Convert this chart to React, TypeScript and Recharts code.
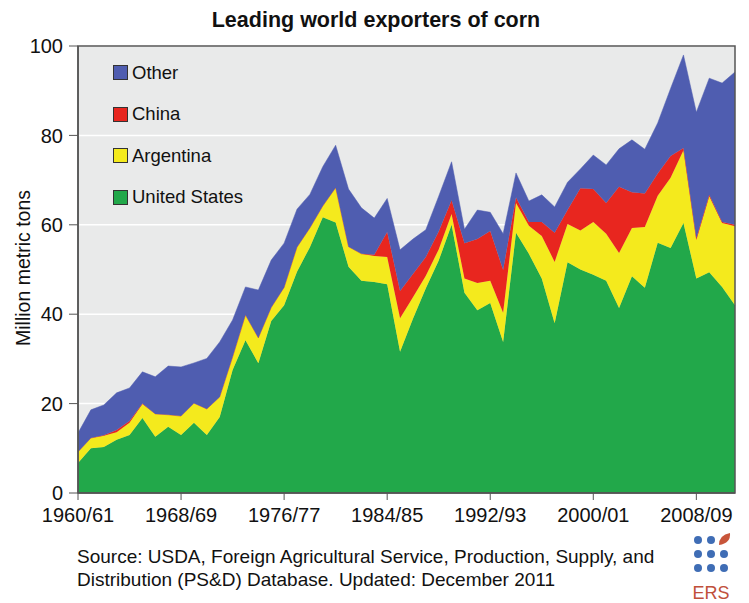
import React from 'react';
import {
  Area,
  AreaChart,
  CartesianGrid,
  Legend,
  ReferenceArea,
  XAxis,
  YAxis,
} from 'recharts';

// Marketing years shown on the x axis (one point per year)
const YEARS = [
  '1960/61', '1961/62', '1962/63', '1963/64', '1964/65', '1965/66', '1966/67', '1967/68', '1968/69', '1969/70',
  '1970/71', '1971/72', '1972/73', '1973/74', '1974/75', '1975/76', '1976/77', '1977/78', '1978/79', '1979/80',
  '1980/81', '1981/82', '1982/83', '1983/84', '1984/85', '1985/86', '1986/87', '1987/88', '1988/89', '1989/90',
  '1990/91', '1991/92', '1992/93', '1993/94', '1994/95', '1995/96', '1996/97', '1997/98', '1998/99', '1999/00',
  '2000/01', '2001/02', '2002/03', '2003/04', '2004/05', '2005/06', '2006/07', '2007/08', '2008/09', '2009/10',
  '2010/11', '2011/12',
];

const X_TICKS = ['1960/61', '1968/69', '1976/77', '1984/85', '1992/93', '2000/01', '2008/09'];
const Y_TICKS = [0, 20, 40, 60, 80, 100];

// Million metric tons
const US = [
  6.7, 10, 10.3, 11.9, 13, 16.8, 12.6, 14.8, 13, 15.7,
  13, 17, 27.5, 34.2, 29, 38.5, 42, 49.5, 55, 61.7,
  60.5, 50.6, 47.5, 47.2, 46.7, 31.6, 39, 45.8, 52, 60,
  44.8, 40.9, 42.5, 33.8, 58.2, 53.5, 48, 38, 51.6, 50,
  48.8, 47.5, 41.4, 48.5, 45.9, 56, 54.8, 60.4, 48, 49.4,
  46.1, 42,
];
const ARGENTINA = [
  2.5, 2.3, 2.5, 1.7, 2.7, 3.1, 5.1, 2.7, 4.2, 4.4,
  5.8, 4.5, 2.9, 5.6, 5.7, 3, 4, 5.5, 4.3, 2.5,
  7.8, 4.5, 6, 5.8, 6.1, 7.5, 4.8, 2.8, 2.5, 2.4,
  3.2, 6.1, 5, 6.5, 6.7, 6.3, 9.5, 13.7, 8.6, 8.7,
  11.8, 10.5, 12.3, 10.8, 13.6, 10.5, 15.7, 16.3, 8.6, 17,
  14.3, 17.7,
];
const CHINA = [
  0, 0, 0.1, 0.5, 0.4, 0.1, 0, 0, 0, 0,
  0, 0, 0, 0, 0, 0, 0, 0, 0, 0,
  0, 0, 0, 0.3, 5.6, 6.1, 5.2, 4.2, 4, 3.1,
  7.9, 9.8, 11.1, 9.6, 1.2, 0.8, 3.1, 6.5, 3.1, 9.5,
  7.4, 6.9, 14.8, 8, 7.5, 5, 4.9, 0.5, 0.4, 0.3,
  0.2, 0.3,
];
const OTHER = [
  4.2, 6.3, 6.8, 8.3, 7.4, 7.1, 8.3, 10.9, 11, 9,
  11.3, 12.3, 8.3, 6.3, 10.7, 10.6, 9.9, 8.5, 7.5, 8.8,
  9.5, 12.9, 10.3, 8.2, 7.5, 9.2, 7.8, 6.1, 7.9, 8.6,
  3.1, 6.5, 4.2, 8.1, 5.5, 4.7, 6.1, 5.8, 6.2, 4.3,
  7.6, 8.5, 8.5, 11.7, 9.9, 11.3, 15.1, 20.8, 28.2, 26.1,
  31.1, 34.2,
];

const FONT = '"Liberation Sans", Arial, sans-serif';

// stacking order bottom -> top
const SERIES = [
  { key: 'us', name: 'United States', color: '#22a84a' },
  { key: 'argentina', name: 'Argentina', color: '#f4ea1d' },
  { key: 'china', name: 'China', color: '#e8261f' },
  { key: 'other', name: 'Other', color: '#4f5db0' },
];

const data = YEARS.map((year, i) => ({
  year,
  us: US[i],
  argentina: ARGENTINA[i],
  china: CHINA[i],
  other: OTHER[i],
}));

// legend lists the top of the stack first
function renderLegend() {
  const items = [...SERIES].reverse();
  return (
    <div style={{ fontFamily: FONT }}>
      {items.map((item) => (
        <div
          key={item.key}
          style={{ display: 'flex', alignItems: 'center', height: 41.5, fontSize: 18.5, color: '#111' }}
        >
          <span
            style={{
              display: 'inline-block',
              width: 13,
              height: 13,
              background: item.color,
              border: '1px solid #333',
              marginRight: 4,
            }}
          />
          {item.name}
        </div>
      ))}
    </div>
  );
}

export default function App() {
  return (
    <div
      style={{
        position: 'fixed',
        left: 0,
        top: 0,
        width: 749,
        height: 603,
        background: '#fff',
        fontFamily: FONT,
      }}
    >
      <AreaChart
        width={749}
        height={603}
        data={data}
        margin={{ top: 46, right: 14, left: 18, bottom: 70 }}
      >
        <CartesianGrid vertical={false} stroke="#ffffff" strokeWidth={1.5} fill="#e9eaea" />
        <XAxis
          dataKey="year"
          ticks={X_TICKS}
          interval={0}
          height={40}
          tickSize={7}
          tickMargin={8}
          tick={{ fontSize: 20, fill: '#111', fontFamily: FONT }}
          axisLine={{ stroke: '#555', strokeWidth: 1.5 }}
          tickLine={{ stroke: '#555' }}
        />
        <YAxis
          domain={[0, 100]}
          ticks={Y_TICKS}
          width={60}
          tickSize={9}
          tickMargin={6}
          tick={{ fontSize: 20, fill: '#111', fontFamily: FONT }}
          axisLine={{ stroke: '#555', strokeWidth: 1.5 }}
          tickLine={{ stroke: '#555' }}
        />
        {SERIES.map((s) => (
          <Area
            key={s.key}
            type="linear"
            dataKey={s.key}
            name={s.name}
            stackId="exports"
            stroke={s.color}
            strokeWidth={0.5}
            fill={s.color}
            fillOpacity={1}
            dot={false}
            activeDot={false}
            isAnimationActive={false}
          />
        ))}
        <ReferenceArea
          x1={YEARS[0]}
          x2={YEARS[YEARS.length - 1]}
          y1={0}
          y2={100}
          fill="none"
          stroke="#555"
          strokeWidth={1.5}
        />
        <Legend
          layout="vertical"
          align="center"
          verticalAlign="middle"
          content={renderLegend}
          wrapperStyle={{ left: 113, top: 52, width: 'auto', height: 'auto' }}
        />
      </AreaChart>

      <svg
        width={749}
        height={603}
        style={{ position: 'absolute', left: 0, top: 0, pointerEvents: 'none' }}
      >
        <text x={376} y={27} textAnchor="middle" fontSize={21.5} fontWeight="bold" fill="#111" fontFamily={FONT}>
          Leading world exporters of corn
        </text>
        <text
          x={23}
          y={268}
          transform="rotate(-90 23 268)"
          textAnchor="middle"
          dominantBaseline="central"
          fontSize={19.5}
          fill="#111"
          fontFamily={FONT}
        >
          Million metric tons
        </text>
        <text x={77} y={563} fontSize={19} fill="#111" fontFamily={FONT}>
          Source: USDA, Foreign Agricultural Service, Production, Supply, and
        </text>
        <text x={77} y={586} fontSize={19} fill="#111" fontFamily={FONT}>
          Distribution (PS&amp;D) Database. Updated: December 2011
        </text>
        <g fill="#3f6db5">
          <circle cx={698} cy={540} r={4} />
          <circle cx={711} cy={540} r={4} />
          <circle cx={698} cy={554} r={4} />
          <circle cx={711} cy={554} r={4} />
          <circle cx={724} cy={554} r={4} />
          <circle cx={698} cy={568} r={4} />
          <circle cx={711} cy={568} r={4} />
          <circle cx={724} cy={568} r={4} />
        </g>
        <path d="M719 545 Q719 535 730 533 Q731 543 719 545 Z" fill="#c8553a" />
        <text x={711} y={599} textAnchor="middle" fontSize={18} fill="#c0503a" fontFamily={FONT}>
          ERS
        </text>
      </svg>
    </div>
  );
}
